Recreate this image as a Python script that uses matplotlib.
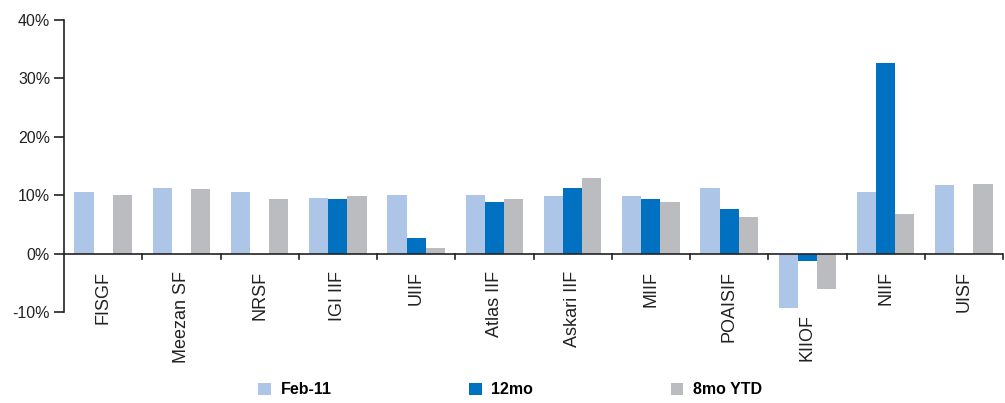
import numpy as np
import matplotlib
matplotlib.use("Agg")
import matplotlib.pyplot as plt
from matplotlib.patches import Patch
from matplotlib.ticker import FuncFormatter, FixedLocator

plt.rcParams['font.family'] = ['Liberation Sans', 'DejaVu Sans']

categories = ["FISGF", "Meezan SF", "NRSF", "IGI IIF", "UIIF", "Atlas IIF",
              "Askari IIF", "MIIF", "POAISIF", "KIIOF", "NIIF", "UISF"]
feb11 = [10.5, 11.3, 10.5, 9.6, 10.1, 10.1, 9.8, 9.8, 11.3, -9.4, 10.5, 11.8]
mo12 = [np.nan, np.nan, np.nan, 9.4, 2.6, 8.9, 11.3, 9.3, 7.7, -1.2, 32.6, np.nan]
ytd8 = [10.1, 11.0, 9.4, 9.8, 1.0, 9.4, 12.9, 8.9, 6.3, -6.0, 6.7, 12.0]
series_names = ["Feb-11", "12mo", "8mo YTD"]
colors = ["#adc6e8", "#0070c0", "#bbbcc0"]
yticks = [-10, 0, 10, 20, 30, 40]

fig = plt.figure(figsize=(10.05, 4.03), dpi=100)
ax = fig.add_axes([64/1005, 1-312/403, (1003-64)/1005, (312-20)/403])

x = np.arange(len(categories))
w = 0.245
for i, (vals, c) in enumerate(zip([feb11, mo12, ytd8], colors)):
    ax.bar(x + (i-1)*w, vals, width=w, color=c, zorder=2)

ax.set_xlim(-0.5, len(categories)-0.5)
ax.set_ylim(-10, 40)
ax.yaxis.set_major_locator(FixedLocator(yticks))
ax.yaxis.set_major_formatter(FuncFormatter(lambda v, p: f"{v:.0f}%"))
ax.tick_params(axis='y', direction='out', length=7, width=1.2, labelsize=11.5,
               colors='#222222', pad=3)
for s in ['top', 'right', 'bottom']:
    ax.spines[s].set_visible(False)
ax.spines['left'].set_linewidth(1.2)
ax.spines['left'].set_color('#222222')

# zero line with boundary ticks
ax.axhline(0, color='#222222', lw=1.2, zorder=3)
ax.set_xticks([])
for b in np.arange(0.5, len(categories), 1.0):
    ax.plot([b, b], [0, -0.9], color='#222222', lw=1.2, clip_on=False, zorder=3)
allv = np.array([feb11, mo12, ytd8], dtype=float)
for xi, lab in zip(x, categories):
    gmin = np.nanmin(allv[:, xi])
    ypos = min(-2.9, gmin - 0.9)
    ax.text(xi, ypos, lab, rotation=90, ha='center', va='top', fontsize=13,
            color='#222222')

handles = [Patch(facecolor=c, edgecolor='none') for c in colors]
leg = fig.legend(handles, series_names, loc='lower left', ncol=3,
                 bbox_to_anchor=(248/1005, -0.012), frameon=False,
                 prop={'weight': 'bold', 'size': 11.5}, handlelength=0.8,
                 handleheight=0.8, handletextpad=0.6, columnspacing=8.6,
                 borderaxespad=0.25)

fig.savefig("out.png", dpi=100)
